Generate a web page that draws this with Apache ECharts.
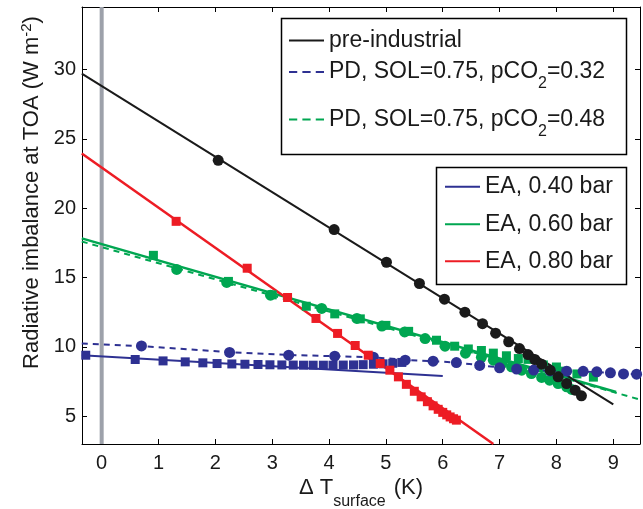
<!DOCTYPE html>
<html><head><meta charset="utf-8">
<script src="https://cdn.jsdelivr.net/npm/echarts@6/dist/echarts.min.js"></script>
<style>html,body{margin:0;padding:0;background:#fff}#c{width:643px;height:509px}</style>
</head><body><div id="c"></div>
<script>
// ---- tick labels ----
const xTicks = [0,1,2,3,4,5,6,7,8,9];
const yTicks = [5,10,15,20,25,30];

// ---- pre-industrial (black circles + fit line) ----
const preX = [2.05,4.09,5.01,5.59,6.03,6.39,6.70,6.93,7.16,7.35,7.50,7.62,7.74,7.89,8.03,8.18,8.33,8.44];
const preY = [23.45,18.46,16.10,14.57,13.44,12.50,11.67,10.99,10.37,9.88,9.45,9.09,8.75,8.32,7.84,7.36,6.88,6.47];
const preFitX = [-0.35,9.0];
const preFitY = [29.7,5.85];

// ---- PD, SOL=0.75, pCO2=0.32 (blue circles + dashed) ----
const pd32X = [0.70,2.25,3.29,4.10,4.78,5.34,5.83,6.24,6.65,7.00,7.30,7.60,7.89,8.18,8.47,8.71,8.95,9.18,9.41];
const pd32Y = [10.07,9.60,9.40,9.33,9.26,9.04,8.97,8.87,8.66,8.49,8.40,8.33,8.27,8.25,8.24,8.20,8.13,8.05,8.03];
const pd32LineX = [-0.35,0.70,2.25,3.29,4.10,4.78,5.34,5.83,6.24,6.65,7.00,7.89,8.47,9.47];
const pd32LineY = [10.25,10.05,9.62,9.42,9.33,9.25,9.06,8.97,8.87,8.68,8.52,8.28,8.23,8.02];

// ---- PD, SOL=0.75, pCO2=0.48 (green circles + dashed) ----
const pd48X = [1.32,2.20,2.97,3.87,4.49,4.93,5.33,5.69,6.04,6.40,6.68,6.89,7.04,7.21,7.39,7.56,7.74,7.88,8.03,8.18,8.27];
const pd48Y = [15.58,14.65,13.73,12.77,12.05,11.50,11.08,10.60,10.05,9.55,9.25,9.04,8.80,8.56,8.32,8.08,7.80,7.60,7.36,7.12,6.93];
const pd48FitX = [-0.35,9.47];
const pd48FitY = [17.6,6.2];

// ---- EA, 0.40 bar (blue squares + line) ----
const ea40X = [-0.28,0.59,1.08,1.47,1.78,2.03,2.29,2.52,2.75,2.96,3.17,3.37,3.55,3.72,3.90,4.07,4.25,4.43,4.60,4.78,4.95,5.12,5.28];
const ea40Y = [9.40,9.09,8.99,8.92,8.85,8.80,8.77,8.75,8.73,8.71,8.70,8.69,8.68,8.68,8.68,8.68,8.69,8.70,8.72,8.75,8.78,8.82,8.88];
const ea40FitX = [-0.35,6.0];
const ea40FitY = [9.4,7.9];

// ---- EA, 0.60 bar (green squares + line) ----
const ea60X = [0.91,2.23,3.00,3.60,4.10,4.55,5.00,5.40,5.89,6.21,6.45,6.68,6.89,7.12,7.33,7.50,7.77,8.00,8.15,8.36,8.65];
const ea60Y = [16.60,14.72,13.75,12.93,12.38,12.02,11.55,11.12,10.48,10.05,9.85,9.74,9.55,9.36,9.16,9.10,8.70,8.55,8.25,8.05,7.82];
const ea60FitX = [-0.35,9.05];
const ea60FitY = [17.82,6.75];

// ---- EA, 0.80 bar (red squares + line) ----
const ea80X = [1.31,2.56,3.27,3.77,4.15,4.46,4.69,4.90,5.07,5.22,5.36,5.50,5.62,5.73,5.83,5.92,6.00,6.07,6.13,6.19,6.24];
const ea80Y = [19.05,15.67,13.56,12.05,10.97,10.10,9.40,8.80,8.32,7.84,7.30,6.80,6.40,6.05,5.75,5.50,5.28,5.10,4.95,4.82,4.72];
const ea80FitX = [-0.35,6.89];
const ea80FitY = [23.94,3.0];

// zero reference line
const zeroX = [0,0];
const zeroY = [3,34.5];

const names = ['pre-industrial','PD, SOL=0.75, pCO2=0.32','PD, SOL=0.75, pCO2=0.48','EA, 0.40 bar','EA, 0.60 bar','EA, 0.80 bar'];
const dashedNames = [names[1], names[2]];

const C = {black:'#1a1a1a', blue:'#2e3192', green:'#00a651', red:'#ed1c24', grey:'#9da1aa'};
const FONT = "'Liberation Sans', Arial, Helvetica, sans-serif";

const zip = (xs, ys) => xs.map((x,i)=>[x, ys[i]]);

function lineSeries(name, xs, ys, color, width, dashed){
  return {name, type:'line', data:zip(xs,ys), symbol:'none', showSymbol:false, silent:true,
    lineStyle:{color, width, type: dashed ? [6,5] : 'solid'}, itemStyle:{color}, z:2, animation:false};
}
function scatterSeries(name, xs, ys, color, symbol, size, z){
  return {name, type:'scatter', data:zip(xs,ys), symbol, symbolSize:size, silent:true,
    itemStyle:{color, opacity:1}, z, animation:false};
}

const rich = {
  n:{fontSize:23, fontFamily:FONT, color:'#1a1a1a', lineHeight:26},
  s:{fontSize:16, fontFamily:FONT, color:'#1a1a1a', lineHeight:16, padding:[24,0,0,0]}
};
function legendFmt(name){
  if (name.indexOf('pCO2')>=0){
    const p = name.split('pCO2');
    return '{n|'+p[0]+'pCO}{s|2}{n|'+p[1]+'}';
  }
  return '{n|'+name+'}';
}
const ICON_SOLID = 'path://M0,0H36V2H0Z';
const ICON_DASH = 'path://M0,0H8V2H0Z M13,0H21V2H13Z M26,0H34V2H26Z';
function legendAt(name, left, top){
  const dashed = dashedNames.indexOf(name) >= 0;
  return {data:[{name, icon: dashed ? ICON_DASH : ICON_SOLID}], left, top, orient:'vertical', padding:0,
    itemWidth:35, itemHeight:2.2, itemGap:0, selectedMode:false, z:60, formatter:legendFmt,
    textStyle:{fontSize:23, fontFamily:FONT, color:'#1a1a1a', rich}};
}

const axisCommon = {
  axisLine:{show:true, onZero:false, lineStyle:{color:'#000', width:1}},
  splitLine:{show:false}
};

const option = {
  animation:false,
  backgroundColor:'#fff',
  grid:{left:82, right:3, top:7, bottom:65, containLabel:false, outerBoundsMode:'none'},
  xAxis:[
    Object.assign({type:'value', min:-0.346, max:9.47, position:'bottom',
      axisTick:{show:true, inside:true, length:5, customValues:xTicks, lineStyle:{color:'#000'}},
      axisLabel:{show:true, customValues:xTicks, fontSize:20, fontFamily:FONT, color:'#1a1a1a', margin:9},
      name:'{n|Δ T}{s|surface}{k|(K)}', nameLocation:'middle', nameGap:31, nameMoveOverlap:false,
      nameTextStyle:{rich:{
        n:{fontSize:22, fontFamily:FONT, color:'#1a1a1a', lineHeight:26},
        k:{fontSize:22, fontFamily:FONT, color:'#1a1a1a', lineHeight:26, padding:[0,0,0,8]},
        s:{fontSize:16, fontFamily:FONT, color:'#1a1a1a', lineHeight:16, padding:[27,0,0,0]}
      }}
    }, axisCommon),
    Object.assign({type:'value', min:-0.346, max:9.47, position:'top',
      axisTick:{show:true, inside:true, length:5, customValues:xTicks, lineStyle:{color:'#000'}},
      axisLabel:{show:false}
    }, axisCommon)
  ],
  yAxis:[
    Object.assign({type:'value', min:3, max:34.5, position:'left',
      axisTick:{show:true, inside:true, length:5, customValues:yTicks, lineStyle:{color:'#000'}},
      axisLabel:{show:true, customValues:yTicks, fontSize:20, fontFamily:FONT, color:'#1a1a1a', margin:6},
      name:'{n|Radiative imbalance at TOA (W m}{p|-2}{n|)}', nameLocation:'middle', nameGap:37, nameRotate:90,
      nameMoveOverlap:false,
      nameTextStyle:{padding:[0,0,0,66], rich:{
        n:{fontSize:22, fontFamily:FONT, color:'#1a1a1a', lineHeight:26},
        p:{fontSize:15, fontFamily:FONT, color:'#1a1a1a', lineHeight:15, padding:[0,0,11,0]}
      }}
    }, axisCommon),
    Object.assign({type:'value', min:3, max:34.5, position:'right',
      axisTick:{show:true, inside:true, length:5, customValues:yTicks, lineStyle:{color:'#000'}},
      axisLabel:{show:false}
    }, axisCommon)
  ],
  legend:[
    legendAt(names[0], 289, 29),
    legendAt(names[1], 289, 52),
    legendAt(names[2], 289, 99.5),
    legendAt(names[3], 445, 175.3),
    legendAt(names[4], 445, 212.7),
    legendAt(names[5], 445, 249.7)
  ],
  graphic:[
    {type:'rect', z:50, shape:{x:281.5, y:18.5, width:345, height:136}, style:{fill:'#fff', stroke:'#000', lineWidth:1.5}},
    {type:'rect', z:50, shape:{x:436.5, y:167.5, width:190, height:117}, style:{fill:'#fff', stroke:'#000', lineWidth:1.5}}
  ],
  series:[
    {name:'zero', type:'line', data:zip(zeroX,zeroY), symbol:'none', silent:true,
      lineStyle:{color:C.grey, width:4}, z:1, animation:false},
    lineSeries(names[4], ea60FitX, ea60FitY, C.green, 2.5, false),
    lineSeries(names[2], pd48FitX, pd48FitY, C.green, 2, true),
    lineSeries(names[3], ea40FitX, ea40FitY, C.blue, 2, false),
    lineSeries(names[1], pd32LineX, pd32LineY, C.blue, 2, true),
    lineSeries(names[5], ea80FitX, ea80FitY, C.red, 2.5, false),
    lineSeries(names[0], preFitX, preFitY, C.black, 2, false),
    scatterSeries('ea60pts', ea60X, ea60Y, C.green, 'rect', 9, 3),
    scatterSeries('pd48pts', pd48X, pd48Y, C.green, 'circle', 11, 3),
    scatterSeries('ea40pts', ea40X, ea40Y, C.blue, 'rect', 9, 4),
    scatterSeries('pd32pts', pd32X, pd32Y, C.blue, 'circle', 11, 4),
    scatterSeries('ea80pts', ea80X, ea80Y, C.red, 'rect', 9, 5),
    scatterSeries('prepts', preX, preY, C.black, 'circle', 11, 6)
  ]
};

const chart = echarts.init(document.getElementById('c'), null, {renderer:'canvas'});
chart.setOption(option);
</script>
</body></html>
